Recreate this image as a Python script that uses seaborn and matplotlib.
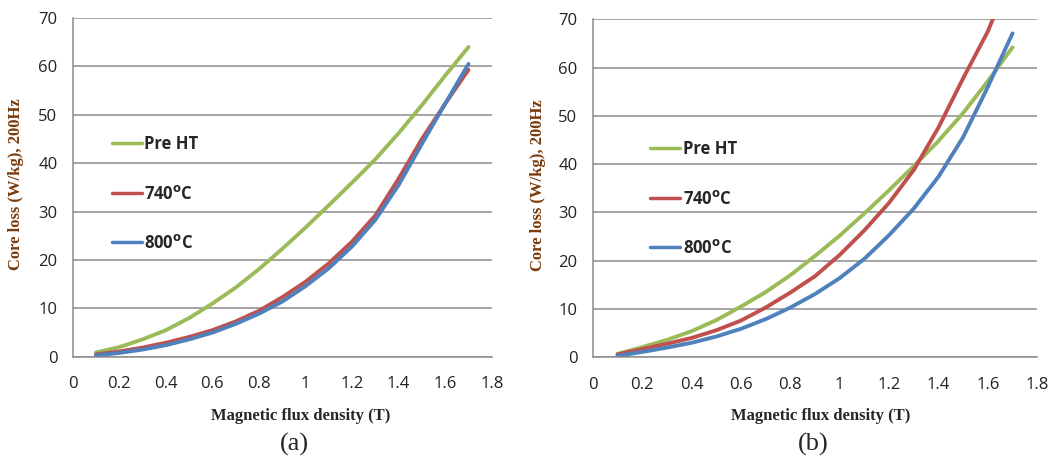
import numpy as np
import pandas as pd
import seaborn as sns
import matplotlib.pyplot as plt

# flux density (T)
flux = [0.1, 0.2, 0.3, 0.4, 0.5, 0.6, 0.7, 0.8, 0.9, 1.0, 1.1, 1.2, 1.3, 1.4, 1.5, 1.6, 1.7]

# (a) core loss (W/kg) at 200 Hz
a_pre_ht = [0.9, 2.0, 3.6, 5.5, 8.0, 11.0, 14.3, 18.1, 22.3, 26.7, 31.3, 36.0, 40.8, 46.2, 52.0, 58.1, 64.0]
a_740 = [0.5, 1.1, 1.9, 2.9, 4.1, 5.5, 7.3, 9.5, 12.3, 15.5, 19.3, 23.8, 29.2, 36.8, 45.0, 52.3, 59.3]
a_800 = [0.3, 0.8, 1.5, 2.4, 3.6, 5.0, 6.8, 8.9, 11.4, 14.6, 18.3, 22.8, 28.3, 35.5, 44.0, 52.3, 60.5]

# (b) core loss (W/kg) at 200 Hz
b_pre_ht = [0.7, 2.1, 3.6, 5.4, 7.7, 10.5, 13.5, 17.0, 21.0, 25.2, 29.8, 34.6, 39.6, 44.8, 50.6, 57.2, 64.2]
b_740 = [0.6, 1.7, 2.8, 4.0, 5.6, 7.6, 10.3, 13.4, 16.8, 21.2, 26.3, 32.0, 38.8, 47.6, 57.8, 67.5, 80.0]
b_800 = [0.3, 1.1, 2.0, 3.0, 4.3, 5.9, 7.9, 10.3, 13.1, 16.4, 20.4, 25.3, 30.8, 37.4, 45.6, 56.0, 67.1]

series_names = ['Pre HT', r'740$^{\mathbf{o}}$C', r'800$^{\mathbf{o}}$C']
palette = dict(zip(series_names, ['#9BBB59', '#C0504D', '#4F81BD']))

x_ticks = [0, 0.2, 0.4, 0.6, 0.8, 1.0, 1.2, 1.4, 1.6, 1.8]
x_tick_labels = ['0', '0.2', '0.4', '0.6', '0.8', '1', '1.2', '1.4', '1.6', '1.8']
y_ticks = [0, 10, 20, 30, 40, 50, 60, 70]


def make_df(values):
    rows = []
    for name, vals in zip(series_names, values):
        for b, v in zip(flux, vals):
            rows.append({'B': b, 'loss': v, 'series': name})
    return pd.DataFrame(rows)


sns.set_style('white')
fig = plt.figure(figsize=(10.53, 4.61), dpi=100)

panels = [
    # axes rect, data, legend anchor, ylabel x, xlabel x, caption, caption x
    ([0.069, 0.226, 0.398, 0.735], [a_pre_ht, a_740, a_800], (0.093, 0.655), -0.116, 0.545, '(a)', 0.28),
    ([0.563, 0.225, 0.422, 0.733], [b_pre_ht, b_740, b_800], (0.129, 0.643), -0.106, 0.512, '(b)', 0.772),
]

for rect, vals, leg_anchor, ylab_x, xlab_x, caption, cap_x in panels:
    ax = fig.add_axes(rect)
    df = make_df(vals)
    sns.lineplot(data=df, x='B', y='loss', hue='series', palette=palette,
                 linewidth=2.8, ax=ax, sort=False, solid_joinstyle='round')
    ax.set_xlim(0, 1.8)
    ax.set_ylim(0, 70)
    ax.set_xticks(x_ticks)
    ax.set_xticklabels(x_tick_labels)
    ax.set_yticks(y_ticks)
    ax.yaxis.grid(True, color='#8c8c8c', linewidth=1.1)
    ax.set_axisbelow(True)
    for side in ['top', 'right']:
        ax.spines[side].set_visible(False)
    for side in ['left', 'bottom']:
        ax.spines[side].set_color('#8c8c8c')
        ax.spines[side].set_linewidth(1.1)
    ax.tick_params(axis='both', direction='out', length=5, width=1, color='#8c8c8c',
                   labelsize=12, labelcolor='#222222', pad=6)
    ax.tick_params(axis='x', pad=9)
    for lab in ax.get_xticklabels() + ax.get_yticklabels():
        lab.set_family('Open Sans')

    ax.set_xlabel('Magnetic flux density (T)', family='Liberation Serif',
                  fontweight='bold', fontsize=12)
    ax.set_ylabel('Core loss (W/kg), 200Hz', family='Liberation Serif',
                  fontweight='bold', fontsize=12, color='#7a3a0c')
    ax.xaxis.set_label_coords(xlab_x, -0.15)
    ax.yaxis.set_label_coords(ylab_x, 0.51)

    leg = ax.legend(loc='upper left', bbox_to_anchor=leg_anchor, frameon=False,
                    handlelength=1.8, handletextpad=0.15, labelspacing=1.9,
                    borderpad=0, borderaxespad=0,
                    prop={'family': 'Open Sans', 'weight': 'bold', 'size': 12})
    for line in leg.get_lines():
        line.set_linewidth(2.5)

    fig.text(cap_x, 0.035, caption, family='Liberation Serif', fontsize=19,
             ha='center', va='center')

fig.savefig('out.png', dpi=100, facecolor='white')
